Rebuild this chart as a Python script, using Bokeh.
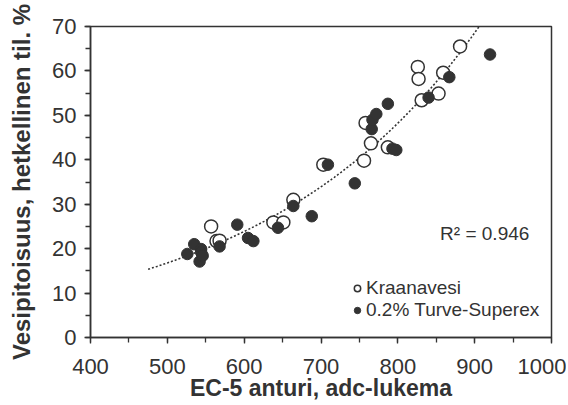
import numpy as np
from bokeh.plotting import figure
from bokeh.models import Legend, LegendItem, Range1d, Label, FixedTicker
from bokeh.embed import file_html
from bokeh.resources import INLINE

# Kraanavesi (open circles)
kraana_x = [557, 564, 568, 638, 651, 664, 703, 756, 758, 765, 787, 826, 827, 831, 853, 859, 881]
kraana_y = [25.0, 21.7, 21.8, 25.9, 25.9, 31.0, 38.9, 39.8, 48.3, 43.7, 42.8, 60.9, 58.2, 53.4, 54.9, 59.6, 65.5]

# 0.2% Turve-Superex (filled circles)
turve_x = [526, 535, 542, 544, 544, 546, 568, 591, 605, 612, 644, 664, 688, 709, 744,
           766, 767, 772, 787, 793, 798, 840, 867, 920]
turve_y = [18.8, 21.0, 17.1, 19.9, 19.2, 18.4, 20.5, 25.4, 22.4, 21.7, 24.7, 29.6, 27.3, 38.9, 34.7,
           46.9, 49.0, 50.3, 52.6, 42.5, 42.2, 54.0, 58.6, 63.7]

r2_text = "R² = 0.946"
x_title = "EC-5 anturi, adc-lukema"
y_title = "Vesipitoisuus, hetkellinen til. %"
x_ticks = [400, 500, 600, 700, 800, 900, 1000]
y_ticks = [0, 10, 20, 30, 40, 50, 60, 70]

# exponential trendline fitted to all data (as Excel does)
all_x = np.array(kraana_x + turve_x, dtype=float)
all_y = np.array(kraana_y + turve_y, dtype=float)
b, ln_a = np.polyfit(all_x, np.log(all_y), 1)
tx = np.linspace(475, 930, 200)
ty = np.exp(ln_a) * np.exp(b * tx)

FONT = "Liberation Sans"
DARK = "#333333"

p = figure(width=566, height=404, output_backend="svg", toolbar_location=None,
           x_range=Range1d(400, 1000), y_range=Range1d(0, 70),
           min_border_left=90, min_border_right=15, min_border_top=26, min_border_bottom=67)
p.grid.visible = False
p.outline_line_color = DARK
p.outline_line_width = 1.5
p.background_fill_color = "white"

p.line(tx, ty, line_dash="2 2", line_color=DARK, line_width=1.6)

r_open = p.scatter(kraana_x, kraana_y, size=13, marker="circle", fill_color="white",
                   line_color=DARK, line_width=1.5)
r_fill = p.scatter(turve_x, turve_y, size=11.5, marker="circle", fill_color=DARK,
                   line_color=DARK, line_width=1)

p.xaxis.ticker = FixedTicker(ticks=x_ticks, minor_ticks=list(range(400, 1001, 50)))
p.yaxis.ticker = FixedTicker(ticks=y_ticks, minor_ticks=list(range(0, 71, 5)))

for ax in (p.xaxis[0], p.yaxis[0]):
    ax.axis_line_color = DARK
    ax.axis_line_width = 1.5
    ax.major_tick_line_color = DARK
    ax.minor_tick_line_color = DARK
    ax.major_tick_line_width = 1.3
    ax.minor_tick_line_width = 1.3
    ax.major_tick_in = 0
    ax.major_tick_out = 6
    ax.minor_tick_in = 0
    ax.minor_tick_out = 5
    ax.major_label_text_font = FONT
    ax.major_label_text_font_size = "22px"
    ax.major_label_text_color = DARK
    ax.axis_label_text_font = FONT
    ax.axis_label_text_font_style = "bold"
    ax.axis_label_text_color = DARK

p.xaxis.axis_label = x_title
p.yaxis.axis_label = y_title
p.xaxis.axis_label_text_font_size = "23px"
p.yaxis.axis_label_text_font_size = "24px"
p.xaxis.major_label_standoff = 15
p.xaxis.axis_label_standoff = -2
p.yaxis.major_label_standoff = 8
p.yaxis.axis_label_standoff = 14

p.add_layout(Label(x=855, y=23.4, text=r2_text, text_font=FONT, text_font_size="19px",
                   text_color=DARK, text_baseline="middle", text_align="left"))

legend = Legend(items=[LegendItem(label="Kraanavesi", renderers=[r_open]),
                       LegendItem(label="0.2% Turve-Superex", renderers=[r_fill])],
                location=(259, 16), border_line_color=None, background_fill_alpha=0,
                padding=0, margin=0, spacing=0, label_height=19, glyph_width=16,
                glyph_height=16, label_standoff=1, label_text_font=FONT,
                label_text_font_size="19px", label_text_color=DARK)
p.add_layout(legend)

open("out.html", "w").write(file_html(p, INLINE))
